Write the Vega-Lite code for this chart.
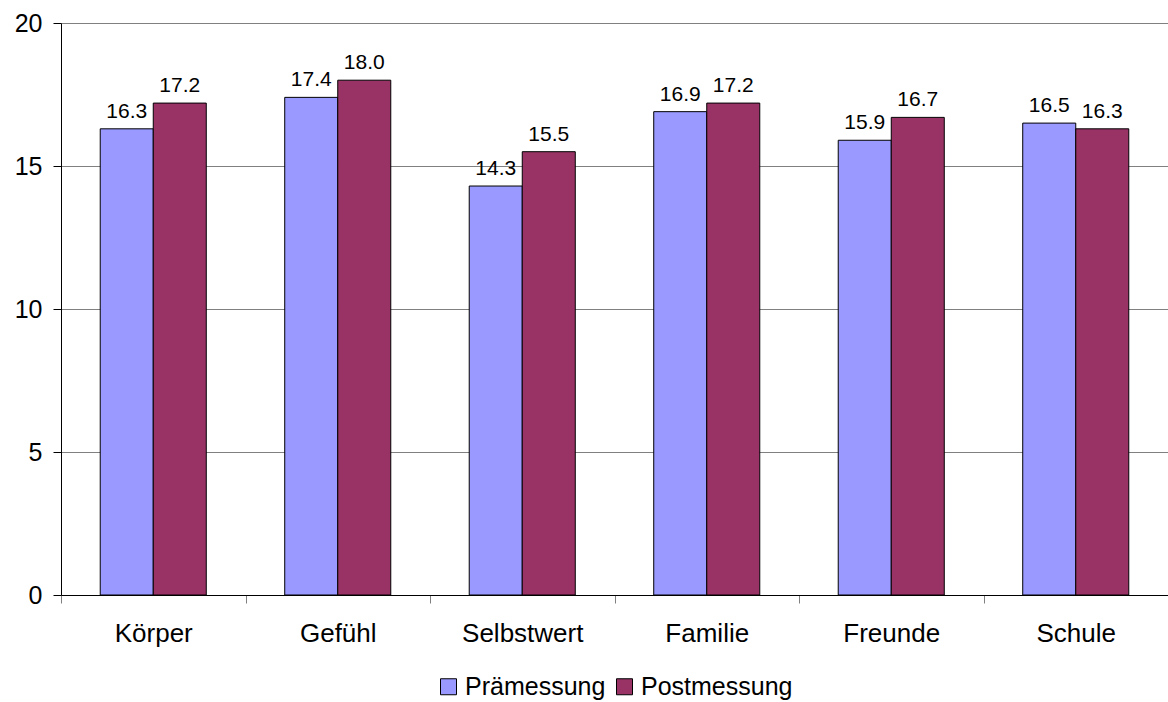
{
  "$schema": "https://vega.github.io/schema/vega-lite/v6.json",
  "width": 1107,
  "height": 572,
  "autosize": {"type": "none"},
  "padding": {"left": 61, "top": 23, "right": 0, "bottom": 107},
  "background": "white",
  "config": {
    "font": "Liberation Sans",
    "view": {"stroke": null},
    "legend": {"layout": {"bottom": {"anchor": "middle"}}}
  },
  "data": {
    "values": [
      {"cat": "Körper", "series": "Prämessung", "value": 16.3},
      {"cat": "Körper", "series": "Postmessung", "value": 17.2},
      {"cat": "Gefühl", "series": "Prämessung", "value": 17.4},
      {"cat": "Gefühl", "series": "Postmessung", "value": 18.0},
      {"cat": "Selbstwert", "series": "Prämessung", "value": 14.3},
      {"cat": "Selbstwert", "series": "Postmessung", "value": 15.5},
      {"cat": "Familie", "series": "Prämessung", "value": 16.9},
      {"cat": "Familie", "series": "Postmessung", "value": 17.2},
      {"cat": "Freunde", "series": "Prämessung", "value": 15.9},
      {"cat": "Freunde", "series": "Postmessung", "value": 16.7},
      {"cat": "Schule", "series": "Prämessung", "value": 16.5},
      {"cat": "Schule", "series": "Postmessung", "value": 16.3}
    ]
  },
  "encoding": {
    "x": {
      "field": "cat", "type": "nominal", "sort": null, "title": null,
      "scale": {"paddingInner": 0, "paddingOuter": 0},
      "axis": {
        "labelAngle": 0, "labelFontSize": 26, "labelColor": "black",
        "tickBand": "extent", "tickSize": 8, "tickColor": "#808080",
        "domainColor": "black", "labelPadding": 17
      }
    },
    "xOffset": {
      "field": "series", "type": "nominal", "sort": ["Prämessung", "Postmessung"],
      "scale": {"paddingInner": 0, "paddingOuter": 0.74}
    },
    "y": {
      "field": "value", "type": "quantitative", "title": null,
      "scale": {"domain": [0, 20], "nice": false},
      "axis": {
        "values": [0, 5, 10, 15, 20], "labelFontSize": 25, "labelColor": "black",
        "tickSize": 8, "tickColor": "black", "domainColor": "black",
        "gridColor": "#808080", "gridOpacity": 1, "labelPadding": 11
      }
    }
  },
  "layer": [
    {
      "mark": {"type": "bar", "stroke": "black", "strokeWidth": 1},
      "encoding": {
        "color": {
          "field": "series", "type": "nominal", "sort": ["Prämessung", "Postmessung"],
          "scale": {"domain": ["Prämessung", "Postmessung"], "range": ["#9999FF", "#993366"]},
          "legend": {
            "title": null, "orient": "bottom", "direction": "horizontal",
            "symbolType": "square", "symbolSize": 256, "symbolStrokeColor": "black",
            "symbolStrokeWidth": 1, "symbolOpacity": 1, "labelFontSize": 25, "labelColor": "black",
            "offset": 28, "columnPadding": 6, "labelOffset": 4
          }
        }
      }
    },
    {
      "mark": {"type": "text", "baseline": "bottom", "dy": -7, "fontSize": 21, "color": "black"},
      "encoding": {
        "text": {"field": "value", "type": "quantitative", "format": ".1f"}
      }
    }
  ]
}
